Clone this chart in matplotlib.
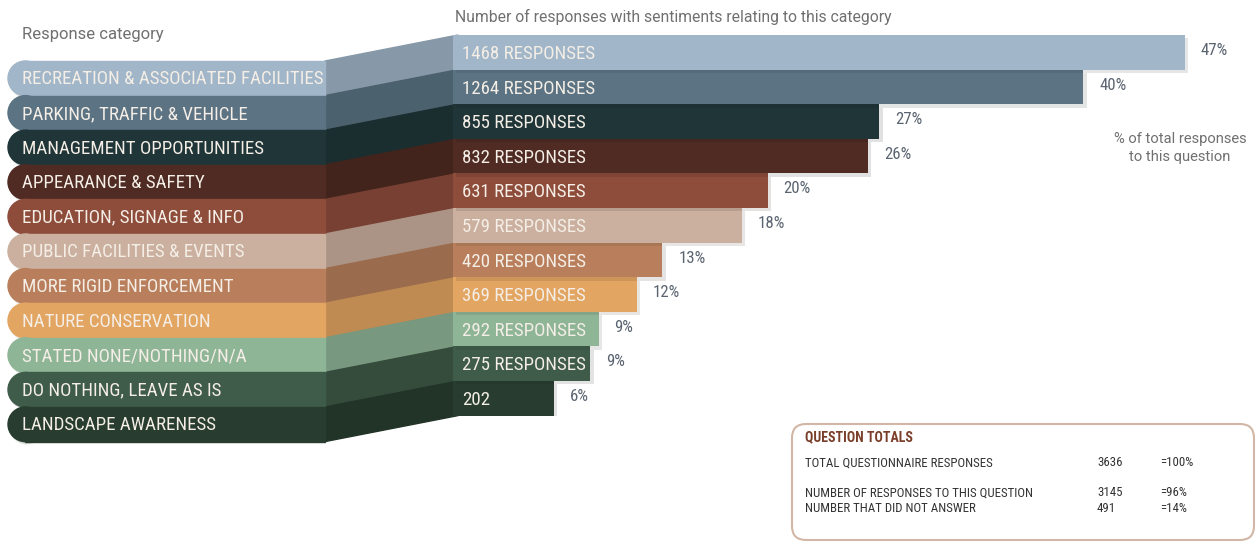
import matplotlib
matplotlib.use('Agg')
import matplotlib.pyplot as plt
from matplotlib import font_manager
from matplotlib.patches import Rectangle, Ellipse, Polygon, FancyBboxPatch
import matplotlib.patheffects as pe
import matplotlib.colors as mcolors

categories = ['RECREATION & ASSOCIATED FACILITIES', 'PARKING, TRAFFIC & VEHICLE',
              'MANAGEMENT OPPORTUNITIES', 'APPEARANCE & SAFETY',
              'EDUCATION, SIGNAGE & INFO', 'PUBLIC FACILITIES & EVENTS',
              'MORE RIGID ENFORCEMENT', 'NATURE CONSERVATION',
              'STATED NONE/NOTHING/N/A', 'DO NOTHING, LEAVE AS IS',
              'LANDSCAPE AWARENESS']
responses = [1468, 1264, 855, 832, 631, 579, 420, 369, 292, 275, 202]
bar_labels = ['1468 RESPONSES', '1264 RESPONSES', '855 RESPONSES', '832 RESPONSES',
              '631 RESPONSES', '579 RESPONSES', '420 RESPONSES', '369 RESPONSES',
              '292 RESPONSES', '275 RESPONSES', '202']
percents = ['47%', '40%', '27%', '26%', '20%', '18%', '13%', '12%', '9%', '9%', '6%']
colors = ['#a1b6c8', '#5b7383', '#1f3538', '#4f2b23', '#8e4c3b', '#cbb09f',
          '#b97f5c', '#e3a562', '#8fb597', '#3f5b49', '#283d30']

totals_rows = ['TOTAL QUESTIONNAIRE RESPONSES', 'NUMBER OF RESPONSES TO THIS QUESTION',
               'NUMBER THAT DID NOT ANSWER']
totals_vals = ['3636', '3145', '491']
totals_pct = ['=100%', '=96%', '=14%']

# pick a narrow font if there is one
avail = set(f.name for f in font_manager.fontManager.ttflist)
narrow = 'DejaVu Sans'
for cand in ['Roboto Condensed', 'Liberation Sans Narrow', 'DejaVu Sans Condensed',
             'Open Sans Condensed']:
    if cand in avail:
        narrow = cand
        break
lab_size = 13.6 if narrow != 'DejaVu Sans' else 10.5

W, H = 1258, 544
fig = plt.figure(figsize=(W / 100, H / 100), dpi=100)
bg = fig.add_axes([0, 0, 1, 1])
bg.set_xlim(0, W)
bg.set_ylim(H, 0)
bg.axis('off')

row_h = 34.6
pill_top = 61
bar_top = 35
pill_x0, pill_x1, bar_x0 = 8, 325, 453

def darker(c, f=0.84):
    r, g, b = mcolors.to_rgb(c)
    return (r * f, g * f, b * f)

# pills and connectors on the left
for i, (cat, col) in enumerate(zip(categories, colors)):
    y0 = pill_top + i * row_h
    r = row_h / 2
    sh = [pe.SimplePatchShadow(offset=(1, -2), alpha=0.15), pe.Normal()]
    e = Ellipse((pill_x0 + r, y0 + r), 2 * r, row_h, color=col, zorder=2 + i * 0.01)
    e.set_path_effects(sh)
    bg.add_patch(e)
    bg.add_patch(Rectangle((pill_x0 + r, y0), pill_x1 - pill_x0 - r, row_h, color=col,
                           zorder=2.005 + i * 0.01))
    b0 = bar_top + i * row_h
    bg.add_patch(Polygon([(pill_x1, y0), (bar_x0 + 5, b0), (bar_x0 + 5, b0 + row_h),
                          (pill_x1, y0 + row_h)], closed=True, color=darker(col),
                         zorder=2))
    bg.text(22, y0 + r + 1, cat, color='#f4eee6', fontsize=lab_size, family=narrow,
            va='center', ha='left', zorder=5)

bg.text(22, 35, 'Response category', color='#707070', fontsize=12, family='Roboto',
        va='center', ha='left')
bg.text(455, 17, 'Number of responses with sentiments relating to this category',
        color='#707070', fontsize=11.3, family='Roboto', va='center', ha='left')
bg.text(1180, 148, '% of total responses\nto this question', color='#707070',
        fontsize=10.6, family='Roboto', va='center', ha='center', linespacing=1.3)

# bars
ax = fig.add_axes([bar_x0 / W, 1 - (bar_top + 11 * row_h) / H, (W - bar_x0) / W,
                   11 * row_h / H])
ax.set_zorder(3)
ax.patch.set_alpha(0)
ax.axis('off')
ypos = list(range(len(responses)))
bars = ax.barh(ypos, responses, height=1.0, color=colors, zorder=2)
for i, b in enumerate(bars):
    b.set_zorder(2 + (len(bars) - i) * 0.01)
    b.set_path_effects([pe.SimplePatchShadow(offset=(2.5, -2.5), alpha=0.12),
                        pe.Normal()])
ax.set_xlim(0, (W - bar_x0) / 0.4986)
ax.set_ylim(len(responses) - 0.5, -0.5)
for i, (v, lab, p) in enumerate(zip(responses, bar_labels, percents)):
    ax.text(18, i + 0.05, lab, color='#f4eee6', fontsize=lab_size, family=narrow,
            va='center', ha='left', zorder=6)
    ax.text(v + 32, i - 0.05, p, color='#5a6470', fontsize=lab_size - 1.5, family=narrow,
            va='center', ha='left', zorder=6)

# totals box
box = FancyBboxPatch((792, 424), 462, 116, boxstyle='round,pad=0,rounding_size=14',
                     facecolor='white', edgecolor='#d2b7a6', linewidth=1.5, zorder=2)
bg.add_patch(box)
bg.text(805, 437, 'QUESTION TOTALS', color='#7a3e2a', fontsize=10, family=narrow,
        fontweight='bold', va='center', ha='left', zorder=3)
row_y = [463, 493, 508]
for ty, t, v, p in zip(row_y, totals_rows, totals_vals, totals_pct):
    bg.text(805, ty, t, color='#333333', fontsize=9.3, family=narrow, va='center',
            ha='left', zorder=3)
    bg.text(1097, ty, v, color='#333333', fontsize=9.3, family=narrow, va='center',
            ha='left', zorder=3)
    bg.text(1160, ty, p, color='#333333', fontsize=9.3, family=narrow, va='center',
            ha='left', zorder=3)

fig.savefig('out.png', dpi=100, facecolor='white')
